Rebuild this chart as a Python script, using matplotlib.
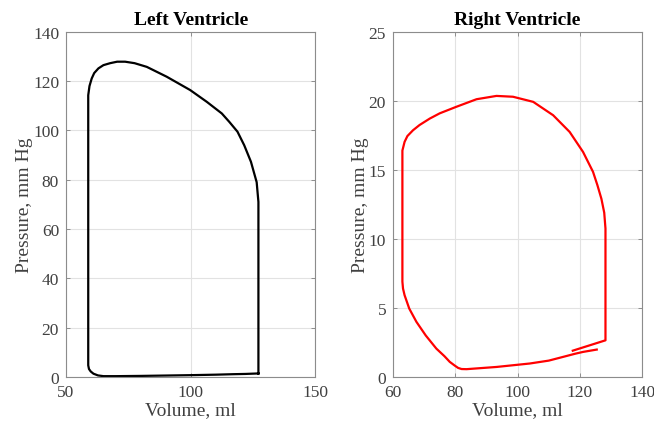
import matplotlib
matplotlib.use("Agg")
import matplotlib.pyplot as plt

# Left ventricle pressure-volume loop (ml, mm Hg)
lv_volume = [127.2, 127.2, 126.5, 124.2, 121.5, 118.8, 115.5, 112.5, 106.5, 99.8, 90.4,
             82.4, 77.5, 73.7, 70.5, 67.7, 65.0, 63.0, 61.3, 60.3, 59.4, 58.9,
             58.9, 59.2, 59.9, 61.0, 62.8, 65.0, 70.0, 80.0, 99.8, 110.0, 117.2,
             122.0, 127.2]
lv_pressure = [1.4, 71.0, 79.0, 87.3, 94.0, 99.5, 103.5, 106.9, 111.6, 116.4, 121.8,
               125.8, 127.3, 127.9, 127.9, 127.3, 126.5, 125.2, 123.3, 121.1, 118.0, 114.3,
               4.7, 3.2, 2.2, 1.3, 0.6, 0.3, 0.3, 0.4, 0.7, 0.9, 1.1,
               1.2, 1.4]

# Right ventricle pressure-volume loop (ml, mm Hg)
rv_volume = [117.7, 128.2, 128.2, 127.8, 126.9, 125.6, 124.2, 121.0, 116.7, 111.4,
             105.0, 98.5, 93.2, 86.8, 80.3, 75.0, 71.8, 68.5, 66.4, 64.6, 63.7, 63.0,
             63.0, 63.2, 63.7, 65.2, 67.5, 70.5, 73.9, 76.5, 78.2, 79.8, 80.9, 82.0,
             83.6, 93.2, 103.9, 110.0, 114.6, 118.5, 121.0, 125.4]
rv_pressure = [1.9, 2.65, 10.75, 11.9, 12.9, 13.9, 14.86, 16.3, 17.75, 18.96,
               19.93, 20.3, 20.36, 20.12, 19.57, 19.1, 18.72, 18.25, 17.87, 17.45, 17.03, 16.4,
               6.9, 6.4, 5.92, 4.95, 3.99, 3.0, 2.05, 1.5, 1.09, 0.82, 0.65, 0.57,
               0.56, 0.72, 0.97, 1.18, 1.45, 1.68, 1.81, 1.98]

plt.rcParams['font.family'] = ['Liberation Serif', 'DejaVu Serif']

fig = plt.figure(figsize=(6.54, 4.27), dpi=100)
ax1 = fig.add_axes([0.101, 0.115, 0.381, 0.808])
ax2 = fig.add_axes([0.601, 0.115, 0.381, 0.808])

ax1.plot(lv_volume, lv_pressure, color='black', lw=1.6, solid_joinstyle='round')
ax2.plot(rv_volume, rv_pressure, color='red', lw=1.6, solid_joinstyle='round')

ax1.set_xlim(50, 150)
ax1.set_ylim(0, 140)
ax1.set_xticks([50, 100, 150])
ax1.set_yticks(range(0, 141, 20))
ax2.set_xlim(60, 140)
ax2.set_ylim(0, 25)
ax2.set_xticks(range(60, 141, 20))
ax2.set_yticks(range(0, 26, 5))

for ax, title in [(ax1, 'Left Ventricle'), (ax2, 'Right Ventricle')]:
    ax.set_title(title, fontsize=14, fontweight='bold', pad=6)
    ax.set_xlabel('Volume, ml', fontsize=14, color='#404040', labelpad=1)
    ax.set_ylabel('Pressure, mm Hg', fontsize=14, color='#404040', labelpad=0)
    ax.grid(True, color='#e2e2e2', lw=0.8)
    ax.set_axisbelow(True)
    ax.tick_params(direction='in', length=3, width=0.6, colors='#808080',
                   labelcolor='#404040', labelsize=12.5, top=True, right=True, pad=5)
    for s in ax.spines.values():
        s.set_color('#8c8c8c')
        s.set_linewidth(0.8)

fig.savefig('out.png', dpi=100)
